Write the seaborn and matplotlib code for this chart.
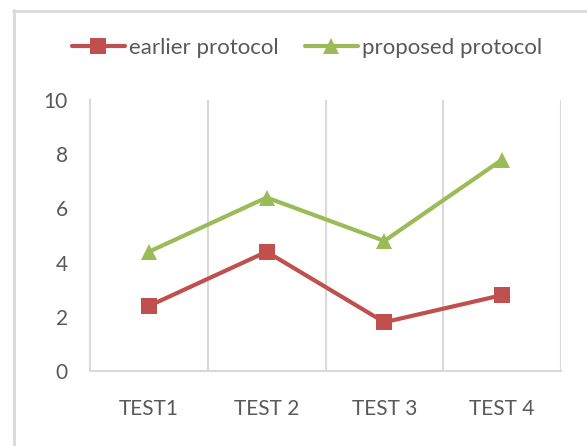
import matplotlib
matplotlib.use("Agg")
import matplotlib.pyplot as plt
from matplotlib.lines import Line2D
import seaborn as sns
import pandas as pd

# data
tests = ["TEST1", "TEST 2", "TEST 3", "TEST 4"]
earlier = [2.4, 4.4, 1.8, 2.8]
proposed = [4.4, 6.4, 4.8, 7.8]
series_names = ["earlier protocol", "proposed protocol"]

RED = "#C0504D"
GREEN = "#9BBB59"
GRID = "#D9D9D9"
TXT = "#595959"

df = pd.DataFrame({
    "test": tests * 2,
    "value": earlier + proposed,
    "series": [series_names[0]] * 4 + [series_names[1]] * 4,
})

sns.set_theme(style="white")
plt.rcParams["font.family"] = ["Lato", "DejaVu Sans"]

fig = plt.figure(figsize=(5.87, 4.46), dpi=100)
ax = fig.add_axes([90 / 587, 75 / 446, 471 / 587, 271 / 446])

sns.lineplot(data=df, x="test", y="value", hue="series", style="series",
             palette=[RED, GREEN], markers=["s", "^"], dashes=False,
             markersize=12, markeredgewidth=0, linewidth=3, ax=ax, legend=False)

ax.set_xlim(-0.5, 3.5)
ax.set_ylim(0, 10)
ax.set_yticks(range(0, 11, 2))
ax.set_xticks(range(len(tests)))
ax.set_xticklabels(tests)
ax.set_xlabel("")
ax.set_ylabel("")

# category separators like Excel
for x in [0.5, 1.5, 2.5, 3.5]:
    ax.axvline(x, color=GRID, lw=1.5, zorder=0)

for side in ["top", "right"]:
    ax.spines[side].set_visible(False)
for side in ["left", "bottom"]:
    ax.spines[side].set_color(GRID)
    ax.spines[side].set_linewidth(1.5)

ax.tick_params(axis="y", length=0, pad=16, labelsize=15, labelcolor=TXT)
ax.tick_params(axis="x", length=0, pad=20, labelsize=15, labelcolor=TXT)

handles = [
    Line2D([], [], color=RED, lw=3, marker="s", markersize=12, markeredgewidth=0),
    Line2D([], [], color=GREEN, lw=3, marker="^", markersize=12, markeredgewidth=0),
]
leg = fig.legend(handles, series_names, loc="center", ncol=2,
                 bbox_to_anchor=(307 / 587, 1 - 48 / 446), frameon=False,
                 fontsize=16, handlelength=2.4, handletextpad=0.2,
                 columnspacing=1.15)
for t in leg.get_texts():
    t.set_color(TXT)

# outer chart frame (cropped on right and bottom)
fig.add_artist(Line2D([13.5 / 587, 13.5 / 587], [0, 1 - 10 / 446],
                      transform=fig.transFigure, color=GRID, lw=2))
fig.add_artist(Line2D([13 / 587, 1], [1 - 10.5 / 446, 1 - 10.5 / 446],
                      transform=fig.transFigure, color=GRID, lw=2))

fig.savefig("out.png", dpi=100)
